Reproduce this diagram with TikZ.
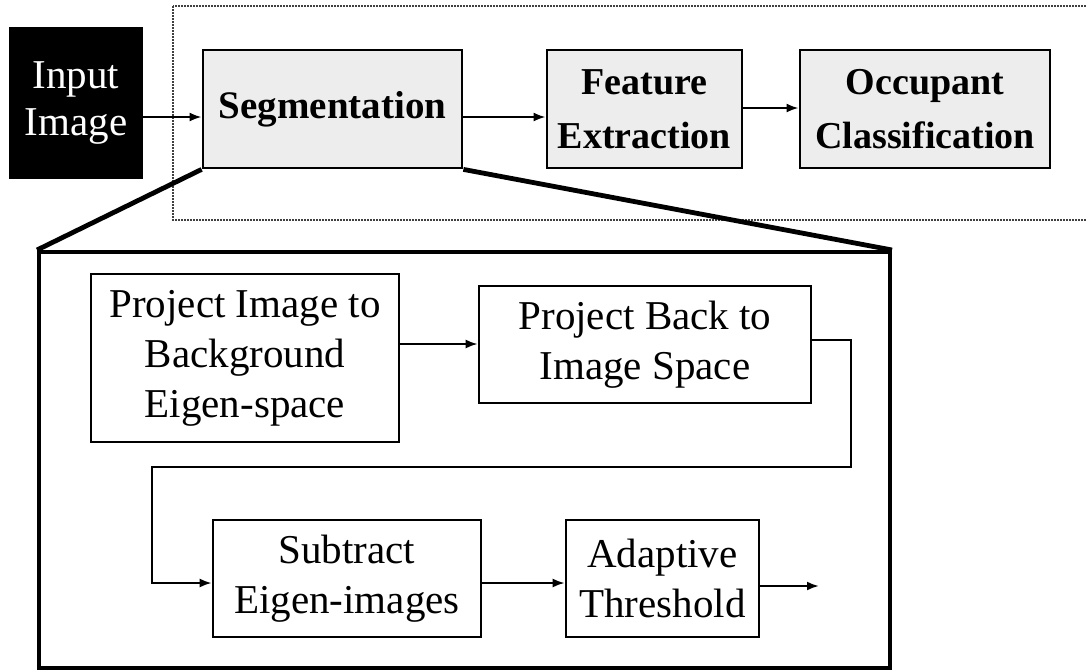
\documentclass[tikz,border=0pt]{standalone}
\usepackage{fontspec}
\setmainfont{Liberation Serif}
\usetikzlibrary{arrows.meta,patterns}
\begin{document}
\begin{tikzpicture}[x=1pt,y=-1pt,
  arr/.style={line width=2.2pt,-{Latex[length=12pt,width=9pt]}},
  topbox/.style={draw,line width=2.8pt,fill=gray!14,align=center,inner sep=0pt,
     font=\bfseries\fontsize{38}{54}\selectfont},
  inbox/.style={draw,line width=2.6pt,align=center,inner sep=0pt,
     font=\fontsize{41}{50}\selectfont},
  zoomline/.style={line width=4.8pt},
]
\useasboundingbox (0,0) rectangle (1086,670);
\clip (0,0) rectangle (1086,670);
\fill[white] (0,0) rectangle (1086,670);
% dotted frame (cut off at right)
\draw[line width=2pt,densely dotted,black!75] (173,6) rectangle (1110,220);
% top row
\node[fill=black,text=white,minimum width=134pt,minimum height=152pt,inner sep=0pt,align=center,
  font=\fontsize{41}{47}\selectfont] (inp) at (76,103) {Input\\Image};
\node[topbox,minimum width=259pt,minimum height=118pt,font=\bfseries\fontsize{39}{50}\selectfont] (seg) at (332.5,109) {Segmentation};
\node[topbox,minimum width=195pt,minimum height=118pt] (feat) at (644.5,109) {Feature\\Extraction};
\node[topbox,minimum width=250pt,minimum height=118pt] (occ) at (925,109) {Occupant\\Classification};
\draw[arr] (inp.east|-0,117) -- (seg.west|-0,117);
\draw[arr] (seg.east|-0,117) -- (feat.west|-0,117);
\draw[arr] (feat.east|-0,108) -- (occ.west|-0,108);
% big zoom box
\node[draw,line width=4pt,minimum width=851pt,minimum height=416pt,inner sep=0pt] (big) at (464.5,460) {};
\draw[zoomline] (seg.south west) -- (big.north west);
\draw[zoomline] (seg.south east) -- (big.north east);
% inner boxes
\node[inbox,minimum width=308pt,minimum height=168pt] (p1) at (245,358) {Project Image to\\Background\\Eigen-space};
\node[inbox,minimum width=332pt,minimum height=117pt] (p2) at (645,344.5) {Project Back to\\Image Space};
\node[inbox,minimum width=268pt,minimum height=117pt] (sub) at (347,578.5) {Subtract\\Eigen-images};
\node[inbox,minimum width=193pt,minimum height=117pt] (adp) at (662.5,578.5) {Adaptive\\Threshold};
\coordinate (out) at (819,586);
\draw[arr] (p1.east|-0,344) -- (p2.west|-0,344);
\draw[arr] (p2.east|-0,340) -- (851,340) -- (851,467) -- (152,467) -- (152,583) -- (sub.west|-0,583);
\draw[arr] (sub.east|-0,583) -- (adp.west|-0,583);
\draw[arr] (adp.east|-0,586) -- (out);
\end{tikzpicture}
\end{document}
